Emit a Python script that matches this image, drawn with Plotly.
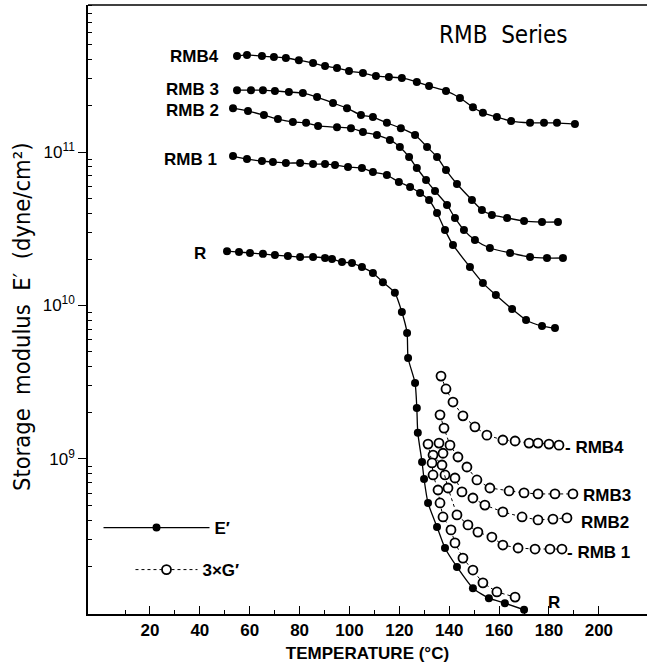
import plotly.graph_objects as go

# ---------------- data ----------------
# Storage modulus E' (dyne/cm^2), filled circles
T_E_RMB4 = [54.9, 58.9, 64.9, 69.7, 74.5, 79.7, 85.4, 90.2, 95.0, 99.8, 105.4, 110.6, 115.8,
            121.0, 127.0, 131.9, 138.7, 144.3, 149.5, 153.5, 159.1, 164.8, 172.4, 178.0, 183.2, 190.4]
E_RMB4 = [4.22e11, 4.29e11, 4.22e11, 4.16e11, 4.10e11, 3.97e11, 3.80e11, 3.63e11, 3.53e11, 3.37e11,
          3.27e11, 3.13e11, 3.08e11, 3.04e11, 2.86e11, 2.69e11, 2.50e11, 2.25e11, 1.96e11, 1.80e11,
          1.69e11, 1.59e11, 1.55e11, 1.55e11, 1.55e11, 1.52e11]

T_E_RMB3 = [54.9, 60.5, 65.3, 70.1, 75.7, 81.3, 87.0, 93.4, 99.0, 104.6, 109.4, 115.0, 120.6,
            126.3, 131.1, 135.1, 138.7, 143.1, 149.1, 153.1, 157.1, 163.2, 170.0, 177.2, 183.6]
E_RMB3 = [2.53e11, 2.53e11, 2.53e11, 2.50e11, 2.46e11, 2.42e11, 2.28e11, 2.09e11, 1.93e11, 1.74e11,
          1.69e11, 1.55e11, 1.43e11, 1.29e11, 1.08e11, 9.28e10, 7.63e10, 6.19e10, 4.87e10, 4.19e10,
          3.89e10, 3.72e10, 3.55e10, 3.50e10, 3.50e10]

T_E_RMB2 = [53.3, 59.3, 65.7, 71.3, 77.3, 82.6, 87.4, 95.0, 100.6, 105.4, 111.0, 116.2, 120.2,
            123.9, 127.0, 130.7, 134.3, 139.1, 142.3, 145.9, 150.3, 156.3, 164.4, 172.4, 179.2, 185.6]
E_RMB2 = [1.93e11, 1.85e11, 1.74e11, 1.64e11, 1.57e11, 1.55e11, 1.48e11, 1.45e11, 1.43e11, 1.35e11,
          1.29e11, 1.20e11, 1.08e11, 9.28e10, 7.87e10, 6.57e10, 5.57e10, 4.52e10, 3.72e10, 3.10e10,
          2.67e10, 2.37e10, 2.20e10, 2.07e10, 2.04e10, 2.04e10]

T_E_RMB1 = [53.3, 58.9, 64.9, 69.3, 74.5, 80.2, 85.4, 90.2, 94.2, 99.4, 105.0, 109.4, 115.0, 119.8,
            124.3, 128.3, 131.9, 135.1, 138.3, 141.5, 148.3, 153.5, 158.7, 165.2, 170.8, 177.2, 182.4]
E_RMB1 = [9.42e10, 9.00e10, 8.74e10, 8.61e10, 8.48e10, 8.48e10, 8.35e10, 8.35e10, 8.23e10, 7.98e10,
          7.87e10, 7.41e10, 7.08e10, 6.38e10, 5.92e10, 5.41e10, 4.87e10, 4.01e10, 3.10e10, 2.48e10,
          1.78e10, 1.40e10, 1.17e10, 9.48e9, 8.05e9, 7.35e9, 7.13e9]

T_E_R = [50.9, 55.7, 60.1, 65.3, 70.1, 75.3, 80.2, 85.4, 90.2, 93.0, 97.0, 101.0, 105.0, 109.4,
         113.4, 118.2, 121.0, 123.1, 123.5, 126.3, 127.0, 127.4, 129.1, 129.9, 131.5, 135.1, 138.3,
         143.1, 149.5, 155.9, 162.3, 170.0]
E_R = [2.26e10, 2.23e10, 2.20e10, 2.17e10, 2.13e10, 2.10e10, 2.07e10, 2.07e10, 2.04e10, 2.01e10,
       1.92e10, 1.89e10, 1.78e10, 1.63e10, 1.42e10, 1.21e10, 9.07e9, 6.62e9, 4.55e9, 3.13e9,
       2.15e9, 1.48e9, 9.55e8, 7.41e8, 5.17e8, 3.61e8, 2.63e8, 1.98e8, 1.44e8, 1.24e8, 1.15e8, 1.04e8]

# 3 x G' (dyne/cm^2), open circles
T_G_RMB4 = [136.7, 138.7, 141.5, 145.5, 150.3, 155.1, 161.5, 166.4, 172.0, 175.6, 180.0, 184.0]
G_RMB4 = [3.47e9, 2.86e9, 2.35e9, 1.91e9, 1.62e9, 1.43e9, 1.33e9, 1.31e9, 1.27e9, 1.27e9, 1.25e9, 1.23e9]

T_G_RMB3 = [136.3, 137.9, 140.3, 143.5, 147.1, 151.1, 156.3, 164.0, 170.0, 175.6, 182.4, 189.6]
G_RMB3 = [1.94e9, 1.59e9, 1.23e9, 1.03e9, 8.87e8, 7.30e8, 6.47e8, 6.19e8, 6.01e8, 5.92e8, 5.92e8, 5.92e8]

T_G_RMB2 = [135.9, 137.5, 138.3, 142.3, 145.1, 149.5, 154.3, 161.5, 169.2, 175.6, 181.6, 187.2]
G_RMB2 = [1.27e9, 1.09e9, 7.87e8, 7.52e8, 6.10e8, 5.57e8, 5.01e8, 4.52e8, 4.19e8, 4.01e8, 4.06e8, 4.13e8]

T_G_RMB1 = [133.5, 137.1, 139.5, 143.1, 147.5, 151.5, 157.1, 161.5, 167.6, 174.4, 180.4, 185.2]
G_RMB1 = [1.06e9, 9.14e8, 6.47e8, 4.32e8, 3.72e8, 3.34e8, 3.10e8, 2.75e8, 2.63e8, 2.59e8, 2.59e8, 2.59e8]

T_G_R = [131.5, 133.1, 133.5, 135.5, 136.3, 137.5, 140.7, 142.3, 145.5, 149.5, 153.5, 159.1, 166.4]
G_R = [1.25e9, 9.42e8, 7.87e8, 6.28e8, 5.17e8, 4.19e8, 3.45e8, 2.84e8, 2.26e8, 1.89e8, 1.56e8, 1.36e8, 1.26e8]

# axis ticks
X_TICKS = [20, 40, 60, 80, 100, 120, 140, 160, 180, 200]
X_MINOR = [10, 30, 50, 70, 90, 110, 130, 150, 170, 190]
Y_TICKS = [1e9, 1e10, 1e11]
Y_TICKTEXT = ["10<sup>9</sup>", "10<sup>10</sup>", "10<sup>11</sup>"]
Y_MINOR = [m * 10 ** p for p in (8, 9, 10, 11) for m in range(2, 10)]

FONT = "Liberation Sans, Arial, Helvetica, sans-serif"
COND = "Liberation Sans Narrow, Arial Narrow, DejaVu Sans Condensed, sans-serif"

fig = go.Figure()

E_series = [("RMB4", T_E_RMB4, E_RMB4), ("RMB3", T_E_RMB3, E_RMB3), ("RMB2", T_E_RMB2, E_RMB2),
            ("RMB1", T_E_RMB1, E_RMB1), ("R", T_E_R, E_R)]
for i, (name, t, e) in enumerate(E_series):
    fig.add_trace(go.Scatter(
        x=t, y=e, mode="lines+markers", name="E′",
        line=dict(color="black", width=1.3, shape="spline", smoothing=0.6),
        marker=dict(symbol="circle", size=8, color="black"),
        showlegend=(i == 0), legend="legend"))

G_series = [("RMB4", T_G_RMB4, G_RMB4), ("RMB3", T_G_RMB3, G_RMB3), ("RMB2", T_G_RMB2, G_RMB2),
            ("RMB1", T_G_RMB1, G_RMB1), ("R", T_G_R, G_R)]
for i, (name, t, g) in enumerate(G_series):
    fig.add_trace(go.Scatter(
        x=t, y=g, mode="lines+markers", name="3×G′",
        line=dict(color="black", width=1, dash="3px,3px"),
        marker=dict(symbol="circle", size=9, color="white", line=dict(color="black", width=1.8)),
        showlegend=(i == 0), legend="legend2"))

lab = dict(font=dict(family=FONT, size=17, color="black", weight="bold"), showarrow=False, borderpad=0)
annots = [
    dict(x=48.1, y=11.625, text="RMB4", xanchor="right", yanchor="middle", **lab),
    dict(x=48.1, y=11.410, text="RMB 3", xanchor="right", yanchor="middle", **lab),
    dict(x=48.1, y=11.270, text="RMB 2", xanchor="right", yanchor="middle", **lab),
    dict(x=47.3, y=10.954, text="RMB 1", xanchor="right", yanchor="middle", **lab),
    dict(x=42.9, y=10.342, text="R", xanchor="right", yanchor="middle", **lab),
    dict(x=186.0, y=9.078, text="- RMB4", xanchor="left", yanchor="middle", **lab),
    dict(x=193.2, y=8.765, text="RMB3", xanchor="left", yanchor="middle", **lab),
    dict(x=192.6, y=8.583, text="RMB2", xanchor="left", yanchor="middle", **lab),
    dict(x=187.0, y=8.388, text="- RMB 1", xanchor="left", yanchor="middle", **lab),
    dict(x=179.0, y=8.068, text="R", xanchor="left", yanchor="middle", **lab),
    dict(x=161.6, y=11.762, text="RMB  Series", xanchor="center", yanchor="middle", showarrow=False,
         font=dict(family=COND, size=24, color="black")),
    dict(xref="paper", yref="paper", x=-0.118, y=0.4877, text="Storage  modulus  E′  (dyne/cm²)",
         textangle=-90, xanchor="center", yanchor="middle", showarrow=False,
         font=dict(family=COND, size=23.5, color="black")),
]

fig.update_layout(
    width=647, height=669,
    margin=dict(l=88, r=0, t=5, b=55, pad=0),
    paper_bgcolor="white", plot_bgcolor="white",
    font=dict(family=FONT, color="black"),
    annotations=annots,
    shapes=[dict(type="line", xref="paper", yref="paper", x0=0, x1=1, y0=1, y1=1,
                 line=dict(color="black", width=1.5))],
    legend=dict(x=0.0188, y=0.1412, xanchor="left", yanchor="middle", bgcolor="rgba(0,0,0,0)",
                itemwidth=106, font=dict(family=FONT, size=17, weight="bold")),
    legend2=dict(x=0.076, y=0.0722, xanchor="left", yanchor="middle", bgcolor="rgba(0,0,0,0)",
                 itemwidth=62, font=dict(family=FONT, size=17, weight="bold")),
    xaxis=dict(range=[-4.85, 219.3], showline=True, linecolor="black", linewidth=1.5,
               showgrid=False, zeroline=False, ticks="inside", ticklen=8, tickwidth=1.3,
               tickcolor="black", tickmode="array", tickvals=X_TICKS,
               ticktext=[str(v) for v in X_TICKS],
               tickfont=dict(family=FONT, size=17, weight="bold"),
               minor=dict(ticks="inside", ticklen=4, tickwidth=1.2, tickcolor="black",
                          tickmode="array", tickvals=X_MINOR),
               title=dict(text="TEMPERATURE (°C)", standoff=8,
                          font=dict(family=FONT, size=17, weight="bold"))),
    yaxis=dict(type="log", range=[7.990, 11.958], showline=True, linecolor="black", linewidth=1.5,
               showgrid=False, zeroline=False, ticks="outside", ticklen=8, tickwidth=1.3,
               tickcolor="black", tickmode="array", tickvals=Y_TICKS, ticktext=Y_TICKTEXT,
               tickfont=dict(family=FONT, size=17),
               minor=dict(ticks="inside", ticklen=4, tickwidth=1.2, tickcolor="black",
                          tickmode="array", tickvals=Y_MINOR)),
)

fig.write_html("out.html", config={"displayModeBar": False},
               post_script="document.body.style.margin='0px';document.body.style.overflow='hidden';")
